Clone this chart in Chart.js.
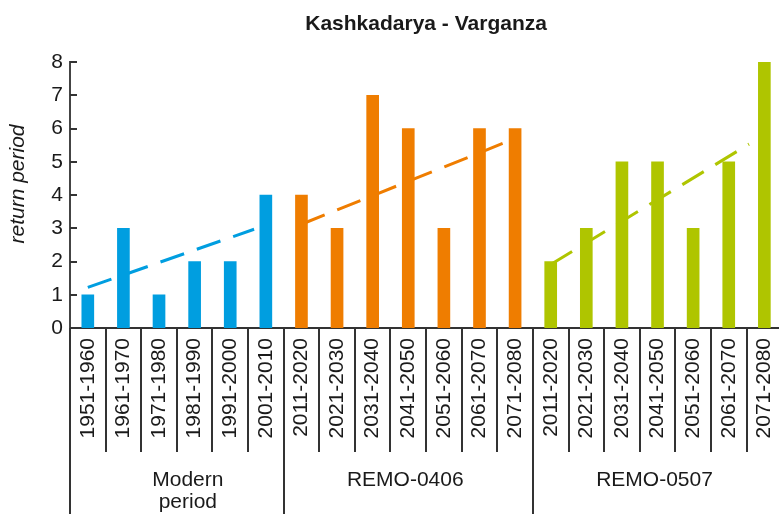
<!DOCTYPE html>
<html>
<head>
<meta charset="utf-8">
<title>Kashkadarya - Varganza</title>
<script src="https://cdn.jsdelivr.net/npm/chart.js@4.4.1/dist/chart.umd.min.js"></script>
<style>
  html, body { margin: 0; padding: 0; background: #fff; overflow: hidden; }
  #wrap { width: 800px; height: 514px; }
</style>
</head>
<body>
<div id="wrap"><canvas id="myChart" width="800" height="514"></canvas></div>
<script>
// datos
const modernLabels = ['1951-1960', '1961-1970', '1971-1980', '1981-1990', '1991-2000', '2001-2010'];
const remoLabels = ['2011-2020', '2021-2030', '2031-2040', '2041-2050', '2051-2060', '2061-2070', '2071-2080'];
const groupNames = [['Modern', 'period'], ['REMO-0406'], ['REMO-0507']];

const modernValues = [1, 3, 1, 2, 2, 4];
const remo0406Values = [4, 3, 7, 6, 3, 6, 6];
const remo0507Values = [2, 3, 5, 5, 3, 5, 8];

// lineas de tendencia: [categoria, valor] inicio y fin
const modernTrend = [[0, 1.22], [4.67, 2.97]];
const remo0406Trend = [[6, 3.12], [11.65, 5.55]];
const remo0507Trend = [[13, 1.91], [18.57, 5.53]];

const yMin = 0, yMax = 8, yStep = 1;

const blue = '#009ee0';
const orange = '#ef7d00';
const green = '#afc500';

const labels = [...modernLabels, ...remoLabels, ...remoLabels];
const values = [...modernValues, ...remo0406Values, ...remo0507Values];
const colors = [
    ...modernValues.map(() => blue),
    ...remo0406Values.map(() => orange),
    ...remo0507Values.map(() => green)
];
const groupSizes = [modernValues.length, remo0406Values.length, remo0507Values.length];

let trend = (pts, color) => ({
    type: 'line',
    data: pts.map(p => ({ x: p[0], y: p[1] })),
    xAxisID: 'xt',
    borderColor: color,
    borderWidth: 3,
    borderDash: [25, 13.5],
    pointRadius: 0,
    fill: false,
    order: 1
});

Chart.defaults.font.family = '"Liberation Sans", Arial, sans-serif';
Chart.defaults.color = '#1a1a1a';

// separadores, marcas del eje y y textos extra
const decor = {
    id: 'decor',
    afterDraw(chart) {
        const { ctx, chartArea, scales: { x, y } } = chart;
        const w = x.getPixelForValue(1) - x.getPixelForValue(0);
        ctx.save();
        ctx.strokeStyle = '#333';
        ctx.lineWidth = 2;

        for (let v = yMin; v <= yMax; v += yStep) {
            const py = Math.round(y.getPixelForValue(v));
            ctx.beginPath();
            ctx.moveTo(chartArea.left, py);
            ctx.lineTo(chartArea.left + 7, py);
            ctx.stroke();
        }

        let starts = [0];
        groupSizes.forEach(n => starts.push(starts[starts.length - 1] + n));
        for (let i = 0; i <= labels.length; i++) {
            const px = Math.round(x.getPixelForValue(Math.min(i, labels.length - 1)) + (i === labels.length ? w / 2 : -w / 2));
            const isGroup = starts.includes(i);
            ctx.beginPath();
            ctx.moveTo(px, chartArea.bottom);
            ctx.lineTo(px, isGroup ? chart.height : chartArea.bottom + 124);
            ctx.stroke();
        }

        ctx.fillStyle = '#1a1a1a';
        ctx.textAlign = 'center';
        ctx.textBaseline = 'middle';
        ctx.font = '21px "Liberation Sans", Arial, sans-serif';
        groupNames.forEach((name, g) => {
            const left = x.getPixelForValue(starts[g]) - w / 2;
            const right = x.getPixelForValue(starts[g + 1] - 1) + w / 2;
            const cx = (left + right) / 2 + (g === 0 ? 11 : -3);
            name.forEach((line, k) => ctx.fillText(line, cx, chartArea.bottom + 152 + k * 22));
        });

        ctx.translate(18, (chartArea.top + chartArea.bottom) / 2 - 11);
        ctx.rotate(-Math.PI / 2);
        ctx.font = 'italic 21px "Liberation Sans", Arial, sans-serif';
        ctx.fillText('return period', 0, 0);
        ctx.restore();
    }
};

var ctx = document.getElementById('myChart').getContext('2d');
var myChart = new Chart(ctx, {
    type: 'bar',
    data: {
        labels: labels,
        datasets: [
            {
                type: 'bar',
                data: values,
                backgroundColor: colors,
                barThickness: 12,
                grouped: false,
                order: 0
            },
            trend(modernTrend, blue),
            trend(remo0406Trend, orange),
            trend(remo0507Trend, green)
        ]
    },
    options: {
        responsive: false,
        animation: false,
        layout: { padding: { right: 14 } },
        scales: {
            x: {
                type: 'category',
                offset: true,
                grid: { display: false, drawTicks: false },
                border: { display: true, color: '#333', width: 2 },
                ticks: {
                    autoSkip: false,
                    minRotation: 90,
                    maxRotation: 90,
                    padding: 10,
                    font: { size: 21 },
                    color: '#1a1a1a'
                },
                afterFit: s => { s.height = 186; }
            },
            xt: {
                type: 'linear',
                display: false,
                offset: false,
                min: -0.5,
                max: labels.length - 0.5
            },
            y: {
                min: yMin,
                max: yMax,
                grid: { display: false, drawTicks: false },
                border: { display: true, color: '#444', width: 2 },
                ticks: { stepSize: yStep, padding: 7, font: { size: 21 }, color: '#1a1a1a' },
                afterFit: s => { s.width = 70; }
            }
        },
        plugins: {
            legend: { display: false },
            tooltip: { enabled: false },
            title: {
                display: true,
                fullSize: false,
                text: 'Kashkadarya - Varganza',
                color: '#1a1a1a',
                font: { size: 21, weight: 'bold' },
                padding: { top: 12, bottom: 24.8 }
            }
        }
    },
    plugins: [decor]
});
</script>
</body>
</html>
